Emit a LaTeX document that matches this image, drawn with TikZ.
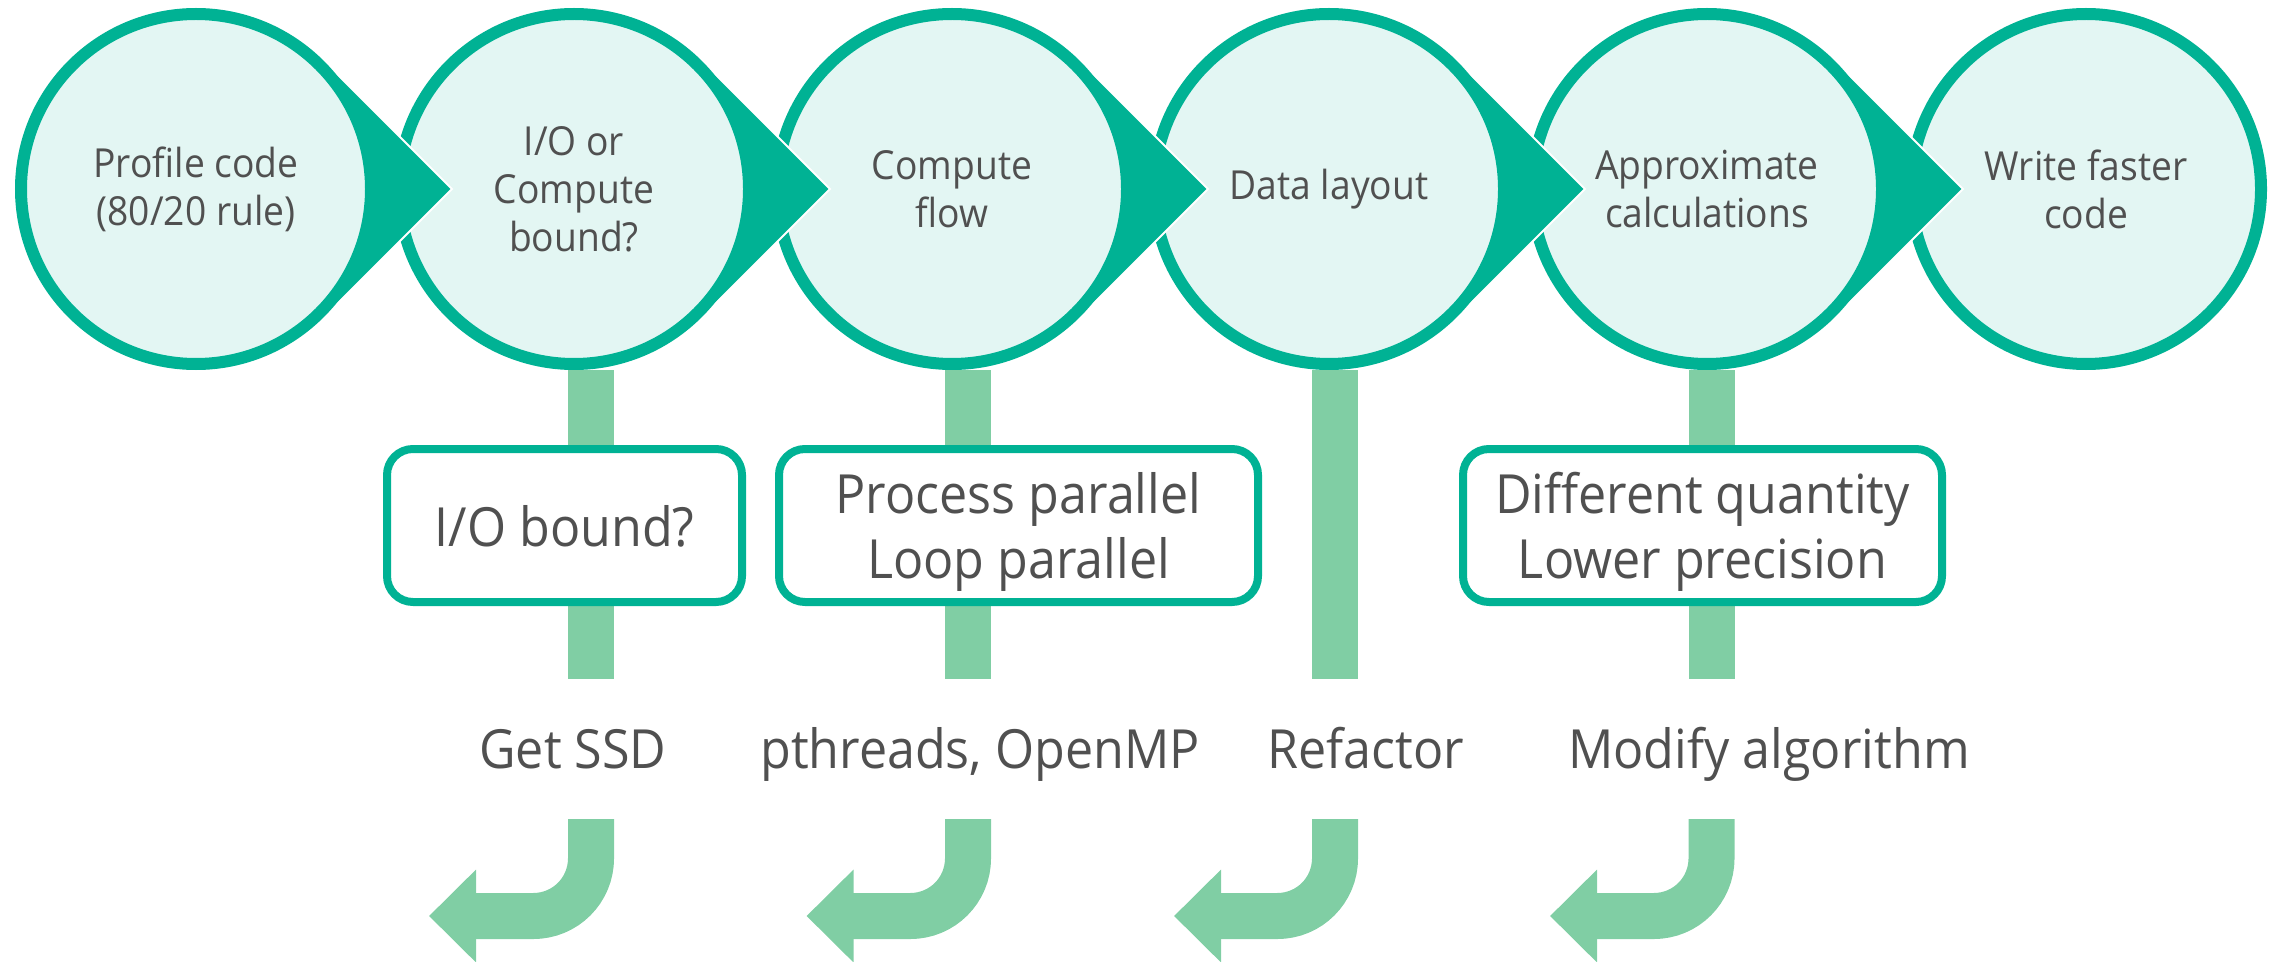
\documentclass[tikz,border=0pt]{standalone}
\usepackage{fontspec}
\setmainfont{Open Sans}[FakeStretch=0.93]
\usetikzlibrary{arrows.meta,calc}

\definecolor{ringteal}{RGB}{0,178,148}
\definecolor{ringfill}{RGB}{227,246,243}
\definecolor{stemgreen}{RGB}{128,206,164}
\definecolor{inkgray}{RGB}{80,80,80}

\tikzset{
  stage/.style={circle, draw=ringteal, line width=3pt, fill=ringfill,
    minimum size=87.5pt, inner sep=0pt, align=center, text=inkgray,
    font=\fontsize{10}{12}\selectfont},
  pointer/.style={fill=ringteal, draw=white, line width=0.5pt},
  note/.style={rectangle, rounded corners=6.5pt, draw=ringteal, line width=2pt,
    fill=white, minimum height=38.25pt, align=center, text=inkgray, text depth=0pt,
    font=\fontsize{13.5}{16.1}\selectfont},
  fix/.style={anchor=base, text=inkgray, font=\fontsize{13.5}{16.1}\selectfont},
  stem/.style={draw=stemgreen, line width=11.5pt},
  turn/.style={stem, rounded corners=14.4pt, -{Triangle[length=11.75pt, width=22.5pt]}},
}

\begin{document}
\begin{tikzpicture}[x=0.25pt, y=-0.25pt]
\useasboundingbox (0,0) rectangle (2280,962);
% stage centres
\foreach \n/\cx in {1/196,2/574,3/952,4/1329,5/1707,6/2086}
  \coordinate (c\n) at (\cx,189);
% right to left, so every pointer sits on top of the next stage
\foreach \n/\txt in {6/{Write faster\\code}, 5/{Approximate\\calculations},
    4/{Data layout}, 3/{Compute\\flow}, 2/{I/O or\\Compute\\bound?},
    1/{Profile code\\(80/20 rule)}}{
  \ifnum\n<6
    \path[pointer] ($(c\n)+(45:181)$) -- ($(c\n)+(0:256)$) -- ($(c\n)+(-45:181)$) -- cycle;
  \fi
  \node[stage] (s\n) at (c\n) {\txt};
}
% stems hanging from stages 2-5
\foreach \n/\sx in {2/591,3/968,4/1335,5/1711.5}{
  \coordinate (k\n) at (\sx,679);
  \draw[stem] (s\n.south -| k\n) -- (k\n);
}
\node[note, minimum width=88.75pt] (b1) at (564.5,525.5) {I/O bound?};
\node[note, minimum width=119.75pt] (b2) at (1018.5,525.5) {Process parallel\\Loop parallel};
\node[note, minimum width=119.75pt] (b3) at (1702.5,525.5) {Different quantity\\Lower precision};
\node[fix] (l1) at (573,768) {Get SSD};
\node[fix] (l2) at (980,768) {pthreads, OpenMP};
\node[fix] (l3) at (1366,768) {Refactor};
\node[fix] (l4) at (1769,768) {Modify algorithm};
% turning arrows at the bottom
\foreach \n/\sx/\tx in {1/591/429,2/968/806.5,3/1335/1174,4/1711.5/1550}{
  \coordinate (a\n) at (\sx,819);
  \coordinate (e\n) at (\tx,916);
  \draw[turn] (a\n) |- (e\n);
}
\end{tikzpicture}
\end{document}
